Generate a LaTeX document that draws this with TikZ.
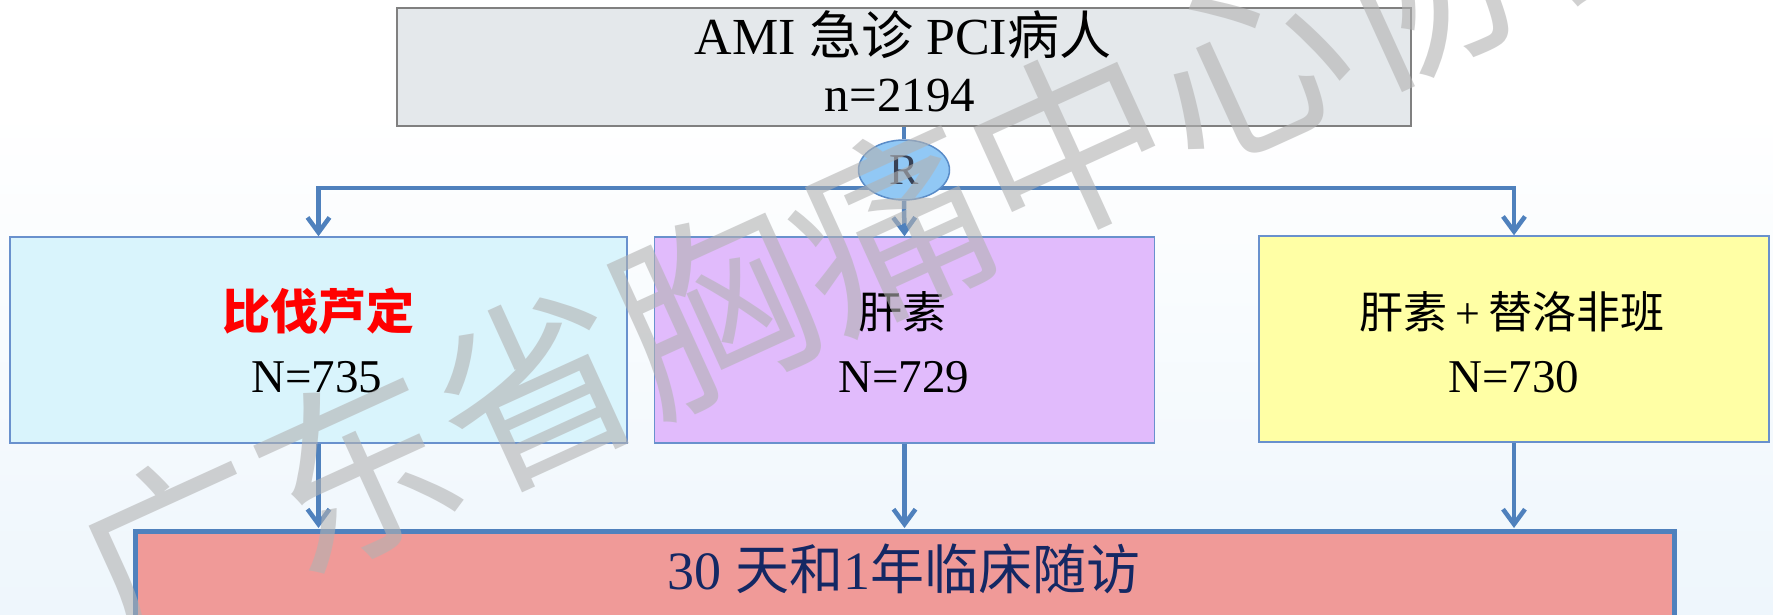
\documentclass[tikz,border=0pt]{standalone}
\usepackage{fontspec}
\setmainfont{Liberation Serif}
\newfontfamily\cjk{Noto Sans CJK SC}
\usetikzlibrary{arrows.meta,shapes.geometric}
\definecolor{conncol}{RGB}{79,129,189}
\definecolor{bgblue}{RGB}{238,246,252}
\definecolor{topfill}{RGB}{228,232,235}
\definecolor{topdraw}{RGB}{128,128,128}
\definecolor{boxdraw}{RGB}{105,145,205}
\definecolor{cyanfill}{RGB}{217,244,252}
\definecolor{lilacfill}{RGB}{225,187,252}
\definecolor{yellowfill}{RGB}{255,255,165}
\definecolor{pinkfill}{RGB}{240,154,152}
\definecolor{ellfill}{RGB}{145,200,245}
\definecolor{elldraw}{RGB}{90,140,200}
\definecolor{rtext}{RGB}{55,65,85}
\definecolor{navy}{RGB}{20,40,100}
\definecolor{redtext}{RGB}{255,0,0}
\begin{document}
\begin{tikzpicture}[x=1pt,y=-1pt,
  box/.style={rectangle, line width=1.5pt, inner sep=0pt},
  conn/.style={draw=conncol, line width=4.5pt},
  arrowend/.style={-{Straight Barb[length=15pt,width=22pt]}},
  lbl/.style={inner sep=0pt},
  wm/.style={text=black!30, text opacity=0.6, rotate=24.5, inner sep=0pt,
    font=\cjk\fontsize{196}{196}\selectfont}]
\useasboundingbox (0,0) rectangle (1773,614);
\clip (0,0) rectangle (1773,614);
% background
\fill[white] (0,0) rectangle (1773,614);
\shade[top color=white, bottom color=bgblue] (0,110) rectangle (1773,614);

% boxes
\node[box, draw=topdraw, fill=topfill, minimum width=1014pt, minimum height=118pt] (top) at (904,67) {};
\node[box, draw=boxdraw, fill=cyanfill, minimum width=617pt, minimum height=206pt] (left) at (318.5,340) {};
\node[box, draw=boxdraw, fill=lilacfill, minimum width=500pt, minimum height=206pt] (mid) at (904.5,340) {};
\node[box, draw=boxdraw, fill=yellowfill, minimum width=510pt, minimum height=206pt] (right) at (1514,339) {};

% connectors top
\coordinate (split) at (904,188);
\draw[conn, {Straight Barb[length=15pt,width=22pt]}-{Straight Barb[length=15pt,width=22pt]}]
  (left.north) -- (left.north |- split) -- (right.north |- split) -- (right.north);
\node[ellipse, draw=elldraw, line width=1.5pt, fill=ellfill, minimum width=91pt, minimum height=60pt, inner sep=0pt,
  text=rtext, font=\fontsize{44}{44}\selectfont] (R) at (904,170) {R};
\draw[conn] (top.south) -- (R.north);
\draw[conn, arrowend] (R.south) -- (mid.north);

% bottom connectors
\draw[conn, arrowend] (left.south) -- ([yshift=1pt]left.south |- 0,529);
\draw[conn, arrowend] (mid.south) -- ([yshift=1pt]mid.south |- 0,529);
\draw[conn, arrowend] (right.south) -- ([yshift=1pt]right.south |- 0,529);

% bottom box
\node[rectangle, draw=conncol, line width=5pt, fill=pinkfill, inner sep=0pt, minimum width=1539pt, minimum height=90pt] (fu) at (904.5,576) {};

% texts
\node[lbl, anchor=base, font=\fontsize{52}{52}\selectfont] (t1) at (903,54) {AMI {\cjk 急诊} PCI{\cjk 病人}};
\node[lbl, anchor=base, font=\fontsize{49}{49}\selectfont] (t2) at (900,111) {n=2194};
\node[lbl, anchor=center, text=redtext, font=\cjk\bfseries\fontsize{48}{48}\selectfont] (l1) at (318,311) {比伐芦定};
\node[lbl, anchor=base, font=\fontsize{47}{47}\selectfont] (l2) at (317,392) {N=735};
\node[lbl, anchor=center, font=\cjk\fontsize{44}{44}\selectfont] (m1) at (902,311.5) {肝素};
\node[lbl, anchor=base, font=\fontsize{47}{47}\selectfont] (m2) at (904,392) {N=729};
\node[lbl, anchor=center, font=\cjk\fontsize{44}{44}\selectfont] (r1) at (1512,311.5) {肝素\hspace{8pt}{\rmfamily+}\hspace{8pt}替洛非班};
\node[lbl, anchor=base, font=\fontsize{47}{47}\selectfont] (r2) at (1514,392) {N=730};
\node[lbl, anchor=base, text=navy, font=\fontsize{54}{54}\selectfont] (f1) at (904,589) {30 {\cjk 天和}1{\cjk 年临床随访}};

% watermark
\node[wm] (wmark) at (891,227) {广东省胸痛中心协会};
\end{tikzpicture}
\end{document}
